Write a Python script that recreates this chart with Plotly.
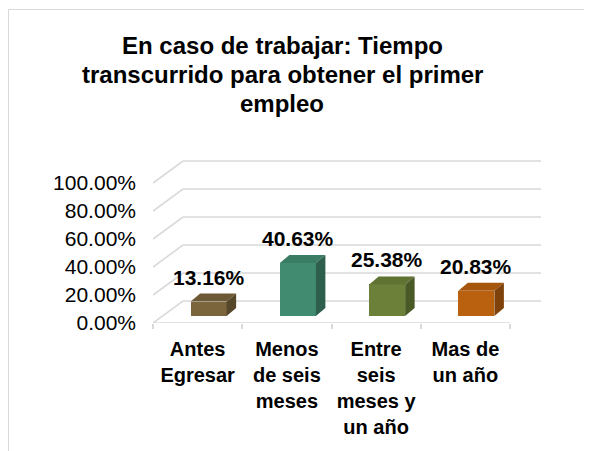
import plotly.graph_objects as go

# ---- data ----
categories = ["Antes<br>Egresar", "Menos<br>de seis<br>meses", "Entre<br>seis<br>meses y<br>un año", "Mas de<br>un año"]
values = [13.16, 40.63, 25.38, 20.83]
front_colors = ["#7b653d", "#418b71", "#6c803a", "#b9610f"]
top_colors = ["#6d5934", "#3a7c64", "#607332", "#a5550c"]
side_colors = ["#56462a", "#2e5f4d", "#4a5a27", "#7f420a"]
y_ticks = [0, 20, 40, 60, 80, 100]
y_tick_labels = ["0.00%", "20.00%", "40.00%", "60.00%", "80.00%", "100.00%"]
title_lines = ["En caso de trabajar: Tiempo", "transcurrido para obtener el primer", "empleo"]

# ---- geometry (screen-pixel targets, page body has an 8px margin) ----
OFF = 8
W, H = 592 - OFF, 451 - OFF
PL, PR = 153 - OFF, 541 - OFF      # plot area x pixels
PB, PT = 323 - OFF, 150 - OFF      # plot area y pixels (bottom, top)
px_per_cat = 89.25
px_per_pct = 1.4
xr = [-0.5, -0.5 + (PR - PL) / px_per_cat]
yr = [0, (PB - PT) / px_per_pct]

ddx = 30 / px_per_cat      # wall depth offset (x, category units)
ddy = 22 / px_per_pct      # wall depth offset (y, % units)
b0 = 7 / px_per_pct        # floor level at bar front
shift = 11 / px_per_cat    # bar shift due to depth
bw = 36 / px_per_cat       # bar width
dxb = 9.5 / px_per_cat     # bar depth x
dyb = 8 / px_per_pct       # bar depth y

FONT = "Liberation Sans, Arial, sans-serif"
GRID = "#d9d9d9"


def px_x(p):
    return (p - OFF - PL) / (PR - PL)


def px_y(p):
    return (PB - (p - OFF)) / (PB - PT)


fig = go.Figure()

# gridlines (perspective) as shapes below the traces
for v in y_ticks:
    fig.add_shape(type="path", xref="x", yref="y", layer="below",
                  path=f"M {xr[0]},{v} L {xr[0] + ddx},{v + ddy} L {xr[1]},{v + ddy}",
                  line=dict(color=GRID, width=1.6))
# floor front edge
fig.add_shape(type="line", xref="x", yref="y", layer="below",
              x0=-0.5, x1=len(values) - 0.5, y0=0, y1=0,
              line=dict(color=GRID, width=1.6))

positions = list(range(len(values)))
xc = [p + shift for p in positions]
tops = [b0 + v - dyb / 2 for v in values]

# front faces
fig.add_trace(go.Bar(
    x=xc, y=[t - b0 for t in tops], base=[b0] * len(values), width=bw,
    marker=dict(color=front_colors, line=dict(width=0)),
    hoverinfo="skip", showlegend=False))

# top and side faces + value labels
for i, v in enumerate(values):
    xl, xrr, yt = xc[i] - bw / 2, xc[i] + bw / 2, tops[i]
    fig.add_trace(go.Scatter(
        x=[xl, xrr, xrr + dxb, xl + dxb, xl], y=[yt, yt, yt + dyb, yt + dyb, yt],
        fill="toself", fillcolor=top_colors[i], mode="lines", line=dict(width=0),
        hoverinfo="skip", showlegend=False))
    fig.add_trace(go.Scatter(
        x=[xrr, xrr, xrr + dxb, xrr + dxb, xrr], y=[b0, yt, yt + dyb, b0 + dyb, b0],
        fill="toself", fillcolor=side_colors[i], mode="lines", line=dict(width=0),
        hoverinfo="skip", showlegend=False))
    fig.add_annotation(
        x=xc[i], y=yt + dyb, xref="x", yref="y", text=f"<b>{v:.2f}%</b>",
        showarrow=False, yanchor="bottom", yshift=3,
        font=dict(family=FONT, size=21, color="#000000"))

# title (one annotation per line for Excel-like line spacing)
title_centers = [45.6, 74.6, 103.0]
for line, yc in zip(title_lines, title_centers):
    fig.add_annotation(
        x=px_x(282), y=px_y(yc), xref="paper", yref="paper",
        text=f"<b>{line}</b>", showarrow=False, xanchor="center", yanchor="middle",
        font=dict(family=FONT, size=24, color="#000000"))

# chart frame
fig.add_shape(type="rect", xref="paper", yref="paper",
              x0=px_x(8.5), x1=2, y0=-2, y1=px_y(9.5),
              line=dict(color="#d9d9d9", width=1), fillcolor="rgba(0,0,0,0)")

fig.update_layout(
    width=W, height=H,
    margin=dict(l=PL, r=W - PR, t=PT, b=H - PB, autoexpand=False),
    paper_bgcolor="white", plot_bgcolor="white",
    bargap=0, showlegend=False,
    xaxis=dict(range=xr, tickmode="array", tickvals=positions,
               ticktext=["<b>" + c.replace("<br>", "</b><br><b>") + "</b>" for c in categories],
               ticks="", showgrid=False, zeroline=False, showline=False,
               tickfont=dict(family=FONT, size=20, color="#000000"),
               ticklabelstandoff=12, automargin=False,
               minor=dict(ticks="outside", ticklen=5, tickcolor=GRID, tickwidth=1.5,
                          tick0=-0.5, dtick=1, showgrid=False)),
    yaxis=dict(range=yr, tickmode="array", tickvals=y_ticks, ticktext=y_tick_labels,
               ticks="", showgrid=False, zeroline=False, showline=False,
               tickfont=dict(family=FONT, size=21, color="#000000"),
               ticklabelstandoff=16, automargin=False),
)

fig.write_html("out.html")
